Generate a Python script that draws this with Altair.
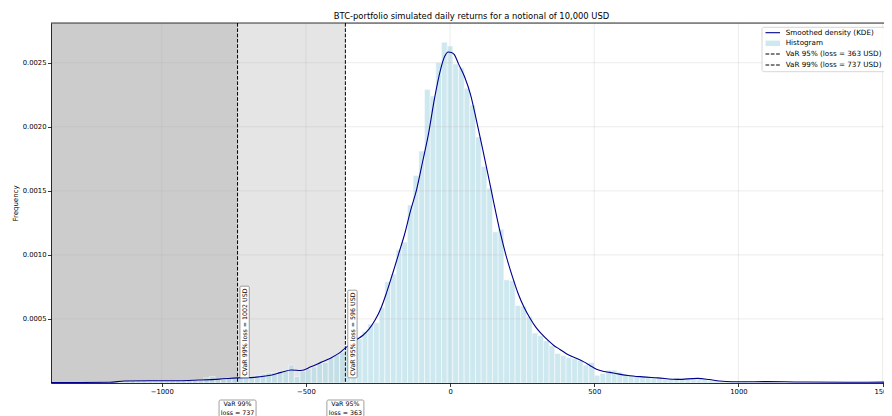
import altair as alt
import pandas as pd

# ---------------- data ----------------
var95_loss, var99_loss = 363, 737
cvar95_loss, cvar99_loss = 596, 1002
var95, var99 = -var95_loss, -var99_loss

x_min, x_max = -1384, 1505
y_max = 0.00281
x_ticks = [-1000, -500, 0, 500, 1000, 1500]
y_ticks = [0.0005, 0.0010, 0.0015, 0.0020, 0.0025]

hist_width = 19.64
hist_left = [
    -1208.0, -1188.4, -1168.8, -1149.1, -1129.5, -1109.8, -1090.2, -1070.6, -1050.9, -1031.3,
    -1011.6, -992.0, -972.4, -952.7, -933.1, -913.4, -893.8, -874.2, -854.5, -834.9,
    -815.2, -795.6, -776.0, -756.3, -736.7, -717.0, -697.4, -677.8, -658.1, -638.5,
    -618.8, -599.2, -579.6, -559.9, -540.3, -520.6, -501.0, -481.4, -461.7, -442.1,
    -422.4, -402.8, -383.2, -363.5, -343.9, -324.2, -304.6, -285.0, -265.3, -245.7,
    -226.0, -206.4, -186.8, -167.1, -147.5, -127.8, -108.2, -88.6, -68.9, -49.3,
    -29.6, -10.0, 9.6, 29.3, 48.9, 68.6, 88.2, 107.8, 127.5, 147.1,
    166.8, 186.4, 206.0, 225.7, 245.3, 265.0, 284.6, 304.2, 323.9, 343.5,
    363.2, 382.8, 402.4, 422.1, 441.7, 461.4, 481.0, 500.6, 520.3, 539.9,
    559.6, 579.2, 598.8, 618.5, 638.1, 657.8, 677.4, 697.0, 716.7, 736.3,
    756.0, 775.6, 795.2, 814.9, 834.5, 854.2, 873.8, 893.4, 913.1, 932.7,
    952.4, 972.0, 991.6, 1011.3, 1030.9, 1050.6, 1070.2, 1089.8, 1109.5, 1129.1,
    1148.8, 1168.4,
]
hist_density = [
    0.000005, 0.000005, 0.000005, 0.000005, 0.00001, 0.000015, 0.00001, 0.000015, 0.00001, 0.00001,
    0.000015, 0.00001, 0.000015, 0.000015, 0.000015, 0.00002, 0.00002, 0.00002, 0.00004, 0.00005,
    0.00003, 0.00003, 0.00004, 0.00004, 0.00005, 0.00005, 0.00005, 0.00006, 0.00007, 0.00008,
    0.00008, 0.00009, 0.0001, 0.00014, 0.00005, 0.000093, 0.00011, 0.000125, 0.00015, 0.00016,
    0.0002, 0.00022, 0.00024, 0.00028, 0.00031, 0.000345, 0.0004, 0.00046, 0.00047, 0.00059,
    0.00079, 0.00085, 0.00104, 0.0011, 0.00139, 0.00162, 0.00181, 0.00229, 0.00224, 0.0025,
    0.00266, 0.00263, 0.00249, 0.00246, 0.0023, 0.00217, 0.00192, 0.00169, 0.00152, 0.00118,
    0.0012, 0.000805, 0.0008, 0.000605, 0.0006, 0.00052, 0.00039, 0.00037, 0.00033, 0.00029,
    0.00023, 0.000215, 0.0002, 0.00019, 0.000176, 0.00014, 0.00016, 0.00006, 0.000075, 0.0001,
    0.0001, 0.000085, 0.00007, 0.00006, 0.00005, 0.00005, 0.000045, 0.00004, 0.000035, 0.00003,
    0.00003, 0.00004, 0.00003, 0.00003, 0.000025, 0.000025, 0.000025, 0.00002, 0.000015, 0.00001,
    0.00001, 0.00001, 0.00001, 0.00001, 0.000005, 0.000005, 0.000005, 0.000005, 0.000005, 0.000005,
    0.000005, 0.000005,
]

kde_x = [
    -1384, -1284, -1180, -1128, -1042, -956, -869, -800, -738, -679,
    -628, -586, -551, -517, -483, -448, -413, -386, -365, -344,
    -323, -303, -282, -261, -240, -220, -199, -178, -157, -137,
    -116, -95, -74, -54, -33, -19, -5.5, 4.8, 15, 29,
    50, 71, 91, 112, 133, 153, 174, 195, 216, 236,
    257, 278, 298, 319, 340, 360, 381, 402, 423, 444,
    464, 485, 506, 527, 554, 582, 616, 668, 720, 789,
    858, 899, 934, 979, 1031, 1100, 1204, 1377, 1505,
]
kde_y = [
    0.000003, 0.000004, 0.000006, 0.000016, 0.000018, 0.000017, 0.000023, 0.00003, 0.00004, 0.000044,
    0.000058, 0.000083, 0.000102, 0.000098, 0.000126, 0.000161, 0.000196, 0.000231, 0.00027, 0.000305,
    0.00034, 0.000371, 0.000418, 0.000488, 0.000582, 0.000707, 0.000855, 0.00101, 0.001167, 0.001346,
    0.00151, 0.001729, 0.001955, 0.00222, 0.002446, 0.002548, 0.002584, 0.00258, 0.002563, 0.002493,
    0.002392, 0.002251, 0.002056, 0.001838, 0.001612, 0.001393, 0.001175, 0.000988, 0.000832, 0.000699,
    0.00059, 0.000504, 0.000434, 0.000379, 0.000332, 0.000293, 0.000262, 0.000231, 0.000207, 0.000188,
    0.000165, 0.000137, 0.00011, 0.000094, 0.000083, 0.000071, 0.000059, 0.000048, 0.00004, 0.000028,
    0.000036, 0.000027, 0.000016, 0.00001, 0.00001, 0.000011, 0.000008, 0.000006, 0.000007,
]

title_text = "BTC-portfolio simulated daily returns for a notional of 10,000 USD"
legend_labels = [
    "Smoothed density (KDE)",
    "Histogram",
    f"VaR 95% (loss = {var95_loss} USD)",
    f"VaR 99% (loss = {var99_loss} USD)",
]

# ---------------- chart ----------------
W, H = 833, 360
PAD_L, PAD_T, PAD_B = 43, 15, 33
FONT = "DejaVu Sans"
xs = alt.Scale(domain=[x_min, x_max], nice=False, zero=False)
ys = alt.Scale(domain=[0, y_max], nice=False, zero=True)

hist_df = pd.DataFrame({"lo": hist_left, "d": hist_density})
hist_df["hi"] = hist_df["lo"] + hist_width
kde_df = pd.DataFrame({"x": kde_x, "y": kde_y})
dummy = pd.DataFrame({"a": [0]})


def one(v):
    return pd.DataFrame({"v": [v]})


x_axis = alt.Axis(values=x_ticks, title=None, grid=False, domainColor="black", domainWidth=0.8,
                  tickColor="black", tickWidth=0.8, tickSize=3.5, labelFont=FONT, labelFontSize=6.8,
                  labelColor="black", labelPadding=1.5, format="d", labelFlush=False,
                  labelOverlap=False, zindex=1)
y_axis = alt.Axis(values=y_ticks, title="Frequency", grid=False, domainColor="black", domainWidth=0.8,
                  tickColor="black", tickWidth=0.8, tickSize=3.5, labelFont=FONT, labelFontSize=6.8,
                  labelColor="black", labelPadding=1.5, format=".4f", labelOverlap=False,
                  titleFont=FONT, titleFontSize=7, titleFontWeight="normal", titleColor="black",
                  titlePadding=4, zindex=1)

span_dark = alt.Chart(one(0)).mark_rect(color="#cccccc").encode(
    x=alt.X("lo:Q", scale=xs, axis=x_axis), x2="hi:Q",
    y=alt.value(0), y2=alt.value(H),
).transform_calculate(lo=str(x_min), hi=str(var99))
span_light = alt.Chart(one(0)).mark_rect(color="#e5e5e5").encode(
    x=alt.X("lo:Q", scale=xs), x2="hi:Q",
    y=alt.value(0), y2=alt.value(H),
).transform_calculate(lo=str(var99), hi=str(var95))

bars = alt.Chart(hist_df).mark_rect(fill="#add8e6", fillOpacity=0.6, stroke="white",
                                     strokeWidth=0.5, clip=True).encode(
    x=alt.X("lo:Q", scale=xs), x2="hi:Q",
    y=alt.Y("d:Q", scale=ys, axis=y_axis), y2=alt.datum(0),
)

grid_x = alt.Chart(pd.DataFrame({"t": x_ticks})).mark_rule(color="#b0b0b0", opacity=0.3,
                                                            strokeWidth=0.8).encode(
    x=alt.X("t:Q", scale=xs))
grid_y = alt.Chart(pd.DataFrame({"t": y_ticks})).mark_rule(color="#b0b0b0", opacity=0.3,
                                                            strokeWidth=0.8).encode(
    y=alt.Y("t:Q", scale=ys))

kde = alt.Chart(kde_df).mark_line(color="darkblue", strokeWidth=1.1, interpolate="monotone",
                                  clip=True).encode(
    x=alt.X("x:Q", scale=xs), y=alt.Y("y:Q", scale=ys))

layers = [span_dark, span_light, bars, grid_x, grid_y, kde]

DASH = [3.7, 1.6]
BOX_BOTTOM = H - 5.2
for v, cv_loss, level, box_h in [(var95, cvar95_loss, 95, 87.6), (var99, cvar99_loss, 99, 91.6)]:
    src = one(v)
    layers.append(alt.Chart(src).mark_rule(color="black", strokeWidth=1, strokeDash=DASH).encode(
        x=alt.X("v:Q", scale=xs)))
    # CVaR label box (rotated)
    layers.append(alt.Chart(src).mark_rect(fill="white", stroke="#777777", strokeWidth=0.7,
                                           cornerRadius=1, xOffset=2.4, x2Offset=11.7).encode(
        x=alt.X("v:Q", scale=xs), x2="v:Q", y=alt.value(BOX_BOTTOM - box_h),
        y2=alt.value(BOX_BOTTOM)))
    layers.append(alt.Chart(src).mark_text(angle=270, align="left", baseline="middle", font=FONT,
                                           fontSize=6.3, color="black", xOffset=7.2).encode(
        x=alt.X("v:Q", scale=xs), y=alt.value(BOX_BOTTOM - 2),
        text=alt.value(f"CVaR {level}% loss = {cv_loss} USD")))
    # VaR label box below axis
    layers.append(alt.Chart(src).mark_rect(fill="white", stroke="#777777", strokeWidth=0.7,
                                           cornerRadius=1.5, xOffset=-18.5, x2Offset=18.5).encode(
        x=alt.X("v:Q", scale=xs), x2="v:Q", y=alt.value(H + 17), y2=alt.value(H + 40)))
    layers.append(alt.Chart(src).mark_text(align="center", baseline="middle", font=FONT,
                                           fontSize=6.3, color="black").encode(
        x=alt.X("v:Q", scale=xs), y=alt.value(H + 21.3), text=alt.value(f"VaR {level}%")))
    layers.append(alt.Chart(src).mark_text(align="center", baseline="middle", font=FONT,
                                           fontSize=6.3, color="black").encode(
        x=alt.X("v:Q", scale=xs), y=alt.value(H + 29.7), text=alt.value(f"loss = {-v}")))

# legend (manual)
LB = 711
LX0, LX1, LT = LB + 3.5, LB + 18, LB + 23.7
rows = [9.7, 20.3, 31.0, 42.0]
layers.append(alt.Chart(dummy).mark_rect(fill="white", fillOpacity=0.8, stroke="#cccccc",
                                         strokeWidth=0.8, cornerRadius=2).encode(
    x=alt.value(LB), x2=alt.value(W + 20), y=alt.value(4.3), y2=alt.value(48.7)))
layers.append(alt.Chart(dummy).mark_rule(color="darkblue", strokeWidth=1.1).encode(
    x=alt.value(LX0), x2=alt.value(LX1), y=alt.value(rows[0])))
layers.append(alt.Chart(dummy).mark_rect(fill="#add8e6", fillOpacity=0.6).encode(
    x=alt.value(LX0), x2=alt.value(LX1), y=alt.value(rows[1] - 2.7), y2=alt.value(rows[1] + 2.7)))
layers.append(alt.Chart(dummy).mark_rule(color="black", strokeWidth=1, strokeDash=DASH).encode(
    x=alt.value(LX0), x2=alt.value(LX1), y=alt.value(rows[2])))
layers.append(alt.Chart(dummy).mark_rule(color="black", strokeWidth=1, strokeDash=DASH).encode(
    x=alt.value(LX0), x2=alt.value(LX1), y=alt.value(rows[3])))
for r, lab in zip(rows, legend_labels):
    layers.append(alt.Chart(dummy).mark_text(align="left", baseline="middle", font=FONT,
                                             fontSize=7.2, color="black").encode(
        x=alt.value(LT), y=alt.value(r), text=alt.value(lab)))

# title and top spine
layers.append(alt.Chart(dummy).mark_text(align="center", baseline="middle", font=FONT,
                                         fontSize=8.4, color="black").encode(
    x=alt.value(420.5), y=alt.value(-7), text=alt.value(title_text)))
layers.append(alt.Chart(dummy).mark_rule(color="black", strokeWidth=0.8).encode(
    x=alt.value(0), x2=alt.value(W + 5), y=alt.value(0)))

chart = alt.layer(*layers).properties(
    width=W, height=H,
    autosize=alt.AutoSizeParams(type="none"),
    padding={"left": PAD_L, "top": PAD_T, "right": 0, "bottom": PAD_B},
).configure_view(strokeWidth=0).configure(background="white")

chart.save("out.html", embed_options={"renderer": "svg", "actions": False})
